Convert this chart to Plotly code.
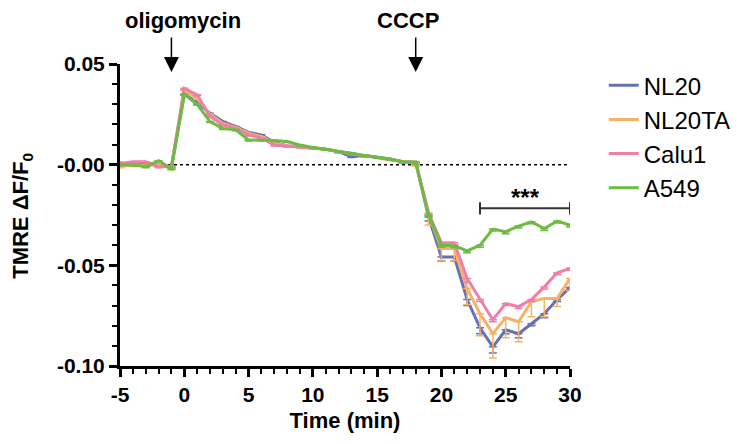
import plotly.graph_objects as go

time = list(range(-5, 31))

nl20 = [0.001, 0.000, 0.0003, 0.000, -0.001, 0.035, 0.031, 0.0256, 0.0214, 0.019, 0.016, 0.0148, 0.011, 0.0093,
        0.009, 0.0085, 0.0077, 0.0065, 0.004, 0.0045, 0.0037, 0.0028, 0.0015, 0.0012,
        -0.026, -0.0458, -0.0458, -0.067, -0.081, -0.0905, -0.082, -0.084, -0.079, -0.074, -0.067, -0.061]
nl20ta = [-0.001, 0.000, -0.0005, 0.000, -0.001, 0.037, 0.033, 0.025, 0.0205, 0.0185, 0.0155, 0.014, 0.0105, 0.0093,
          0.009, 0.0085, 0.0077, 0.0065, 0.0055, 0.0045, 0.0037, 0.0028, 0.0015, 0.0012,
          -0.025, -0.0416, -0.0416, -0.0615, -0.074, -0.084, -0.076, -0.078, -0.068, -0.0665, -0.0665, -0.0565]
calu1 = [0.0005, 0.0015, 0.0015, -0.001, -0.001, 0.038, 0.0347, 0.024, 0.0198, 0.018, 0.0148, 0.0133, 0.0098, 0.0093,
         0.009, 0.0085, 0.0077, 0.0065, 0.0055, 0.0045, 0.0037, 0.0028, 0.0015, 0.0012,
         -0.024, -0.0388, -0.0388, -0.0565, -0.067, -0.077, -0.069, -0.0705, -0.067, -0.0607, -0.0537, -0.0515]
a549 = [0.000, 0.000, -0.001, 0.002, -0.002, 0.035, 0.030, 0.0214, 0.018, 0.0173, 0.0123, 0.0123, 0.012, 0.0115,
        0.0098, 0.0085, 0.0077, 0.0065, 0.0057, 0.0045, 0.0037, 0.0028, 0.0015, 0.0012,
        -0.025, -0.040, -0.0403, -0.0428, -0.040, -0.032, -0.0333, -0.0305, -0.0284, -0.0317, -0.028, -0.030]

err_nl20 = [0.0005] * 23 + [0.002, 0.002, 0.002, 0.002, 0.003, 0.003, 0.003, 0.002, 0.002, 0.001, 0.002, 0.001, 0.001]
err_nl20ta = [0.0005] * 23 + [0.002, 0.005, 0.006, 0.006, 0.008, 0.011, 0.012, 0.010, 0.010, 0.0075, 0.009, 0.004, 0.006]
err_calu1 = [0.0005] * 23 + [0.001, 0.001, 0.001, 0.001, 0.002, 0.001, 0.001, 0.001, 0.001, 0.001, 0.001, 0.001, 0.001]
err_a549 = [0.0005] * 23 + [0.001, 0.001, 0.001, 0.001, 0.001, 0.001, 0.001, 0.001, 0.001, 0.001, 0.001, 0.001, 0.001]

names = ["NL20", "NL20TA", "Calu1", "A549"]
colors = ["#6670B3", "#F7B267", "#EE7FA8", "#6DBB45"]
series = [nl20, nl20ta, calu1, a549]
errors = [err_nl20, err_nl20ta, err_calu1, err_a549]

ytick_vals = [-0.10, -0.05, 0.0, 0.05]
ytick_text = ["-0.10", "-0.05", "-0.00", "0.05"]
xtick_vals = [-5, 0, 5, 10, 15, 20, 25, 30]
xtick_text = ["-5", "0", "5", "10", "15", "20", "25", "30"]

FONT = "Liberation Sans, Arial, Helvetica, sans-serif"

fig = go.Figure()
for name, col, ys, err in zip(names, colors, series, errors):
    fig.add_trace(go.Scatter(
        x=time, y=ys, name=name, mode="lines",
        line=dict(color=col, width=3),
        error_y=dict(type="data", symmetric=False, array=[0] * len(err), arrayminus=err,
                     color=col, thickness=1.5, width=4),
        cliponaxis=False,
    ))

# dotted zero line
fig.add_shape(type="line", x0=-5, x1=30, y0=0, y1=0, xref="x", yref="y",
              line=dict(color="black", width=1.5, dash="dot"), layer="below")

# significance bracket
sig_y = -0.0217
fig.add_shape(type="line", x0=23, x1=30, y0=sig_y, y1=sig_y, line=dict(color="#333", width=2))
fig.add_shape(type="line", x0=23, x1=23, y0=sig_y - 0.003, y1=sig_y + 0.003, line=dict(color="#333", width=2))
fig.add_shape(type="line", x0=30, x1=30, y0=sig_y - 0.003, y1=sig_y + 0.003, line=dict(color="#333", width=2))
fig.add_annotation(x=26.5, y=sig_y, text="<b>***</b>", showarrow=False, yanchor="bottom",
                   yshift=-5, font=dict(family=FONT, size=24, color="black"))

# treatment arrows
for label, tx, ax_time in [("oligomycin", -0.1, -1), ("CCCP", 17.4, 18)]:
    fig.add_annotation(x=tx, y=1.0, xref="x", yref="paper", yshift=44, yanchor="middle",
                       xanchor="center", text=label, showarrow=False,
                       font=dict(family=FONT, size=22, color="black", weight="bold"))
    fig.add_annotation(x=ax_time, y=1.0, xref="x", yref="paper", yshift=-8, text="", showarrow=True,
                       arrowhead=2, arrowsize=2.0, arrowwidth=1.5, arrowcolor="black", ax=0, ay=-36)

# y-axis title
fig.add_annotation(x=-0.218, y=0.497, xref="paper", yref="paper", text="TMRE ΔF/F<sub>0</sub>",
                   textangle=-90, showarrow=False, xanchor="center", yanchor="middle",
                   font=dict(family=FONT, size=22, color="black", weight="bold"))

axis_common = dict(showline=True, linecolor="black", linewidth=3, ticks="outside",
                   tickcolor="black", tickwidth=3, ticklen=8, showgrid=False, zeroline=False,
                   tickfont=dict(family=FONT, size=21, color="black", weight="bold"))

fig.update_xaxes(range=[-5, 30], tickmode="array", tickvals=xtick_vals, ticktext=xtick_text,
                 minor=dict(tickmode="linear", tick0=0, dtick=1, ticks="outside", ticklen=5,
                            tickwidth=2, tickcolor="black"),
                 title=dict(text="Time (min)", standoff=8,
                            font=dict(family=FONT, size=22, color="black", weight="bold")),
                 **axis_common)
fig.update_yaxes(range=[-0.10, 0.05], tickmode="array", tickvals=ytick_vals, ticktext=ytick_text,
                 minor=dict(tickmode="linear", tick0=0, dtick=0.01, ticks="outside", ticklen=5,
                            tickwidth=2, tickcolor="black"),
                 **axis_common)

fig.update_layout(
    width=747, height=444,
    margin=dict(l=112, r=185, t=56, b=86),
    paper_bgcolor="white", plot_bgcolor="white",
    showlegend=True,
    legend=dict(x=1.075, y=1.003, xanchor="left", yanchor="top",
                font=dict(family=FONT, size=24, color="black"),
                bgcolor="rgba(0,0,0,0)", tracegroupgap=0, itemwidth=30),
    font=dict(family=FONT),
)

fig.write_html("out.html")
